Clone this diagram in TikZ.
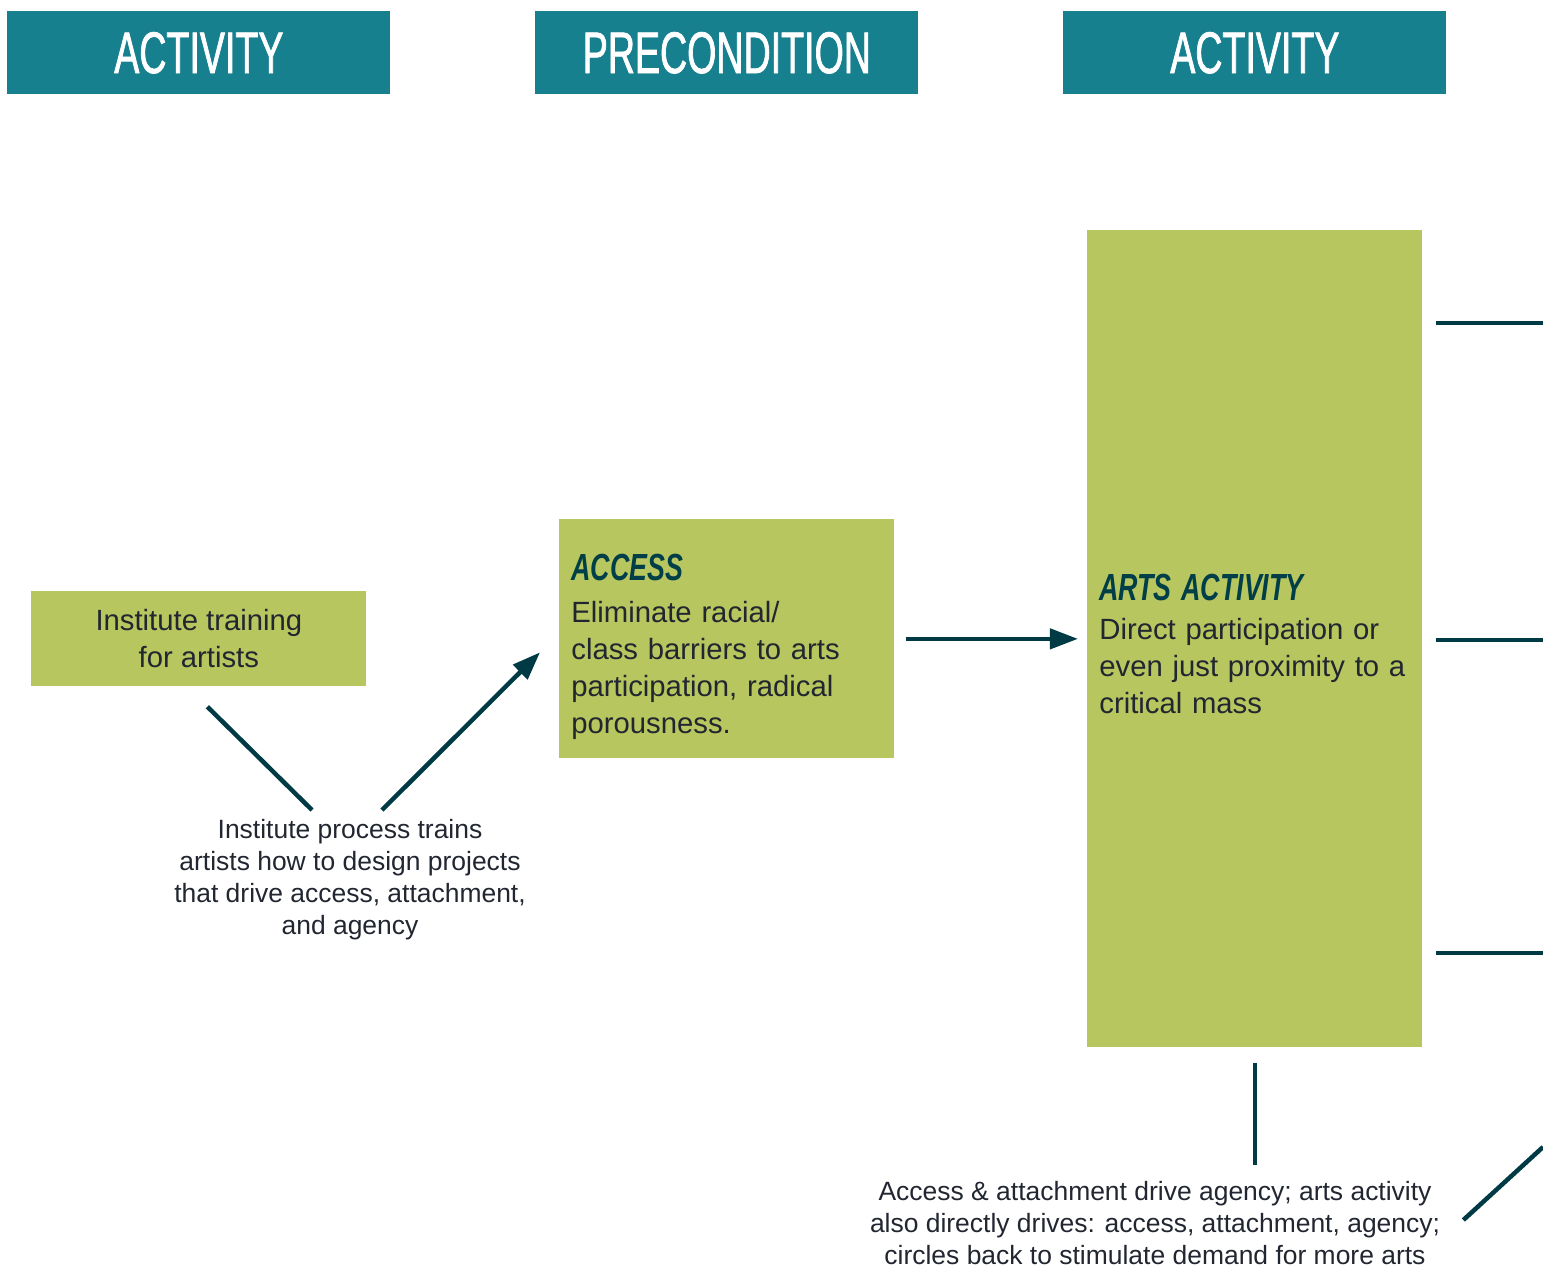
\documentclass[tikz,border=0pt]{standalone}
\usepackage{fontspec}
\setmainfont{Liberation Sans}
\newfontfamily\headfont[FakeStretch=0.64, FakeBold=1.2]{Liberation Sans}
\newfontfamily\titlefont[FakeStretch=0.71]{Liberation Sans}
\usetikzlibrary{positioning, calc, arrows.meta}
\definecolor{headteal}{RGB}{22,128,143}
\definecolor{boxgreen}{RGB}{183,198,94}
\definecolor{linedark}{RGB}{0,58,68}
\definecolor{txtdark}{RGB}{33,38,48}
\definecolor{titledark}{RGB}{0,62,72}
\newdimen\pxu \pxu=0.567pt
\newcommand{\boxtitle}[2]{\rule{0pt}{#1}{\titlefont\bfseries\itshape\color{titledark}\fontsize{21.4}{21}\selectfont #2}}

\begin{document}
\begin{tikzpicture}[x=\pxu, y=-\pxu,
    header/.style={fill=headteal, text=white, anchor=north west, inner sep=0,
        minimum width=383\pxu, minimum height=83\pxu, font=\headfont\fontsize{33.3}{36}\selectfont},
    box/.style={fill=boxgreen, text=txtdark, anchor=north west, inner ysep=0,
        minimum width=335\pxu, font=\fontsize{16.6}{21}\selectfont},
    textbox/.style={box, inner xsep=12\pxu, text width=311\pxu, align=left},
    note/.style={text=txtdark, align=center, inner sep=0, anchor=north,
        font=\fontsize{15}{18.1}\selectfont},
    conn/.style={draw=linedark, line width=4.5\pxu},
    arr/.style={conn, -{Triangle[length=15.9pt, width=11.3pt]}}]
    \useasboundingbox (0,0) rectangle (1543,1268);

    % column headers
    \node[header] (head1) at (7,11) {ACTIVITY};
    \node[header] (head2) at (535,11) {PRECONDITION};
    \node[header] (head3) at (1063,11) {ACTIVITY};

    % boxes
    \node[textbox, minimum height=239\pxu] (accessbox) at (559,519)
        {\boxtitle{24pt}{ACCESS}\\[2.5pt]Eliminate racial/\\class barriers to arts\\participation, radical\\porousness.};
    \node[box, align=center, minimum height=95\pxu] (trainbox) at (31,591) {Institute training\\for artists};
    \node[textbox, minimum height=817\pxu] (artsbox) at (1087,230)
        {\boxtitle{21pt}{ARTS ACTIVITY}\\[1.2pt]Direct participation or\\even just proximity to a\\critical mass};

    % notes
    \node[note] (note1) at (350,819) {Institute process trains\\artists how to design projects\\that drive access, attachment,\\and agency};
    \node[note] (note2) at (1155,1181) {Access \& attachment drive agency; arts activity\\also directly drives: access, attachment, agency;\\circles back to stimulate demand for more arts};

    % connectors
    \draw[arr, shorten <=6.2pt, shorten >=5.1pt] (accessbox) -- (artsbox);
    \draw[conn] ([shift={(8.5,20)}]trainbox.south) -- ([shift={(-38,-9)}]note1.north);
    \draw[arr] ([shift={(32,-9)}]note1.north) -- ([shift={(-19,13.5)}]accessbox.west);
    \foreach \y [count=\i] in {323,640,953} {
        \coordinate (out\i) at (1543,\y);
        \draw[conn] (artsbox.east |- out\i) ++(13,0) -- (out\i);
    }
    \draw[conn] ([yshift=-15*0.567pt]artsbox.south) -- ($(artsbox.south |- note2.north)+(0,-16)$);
    \coordinate (back) at (1543,1147);
    \draw[conn] ([shift={(23,-3)}]note2.east) -- (back);
\end{tikzpicture}
\end{document}
